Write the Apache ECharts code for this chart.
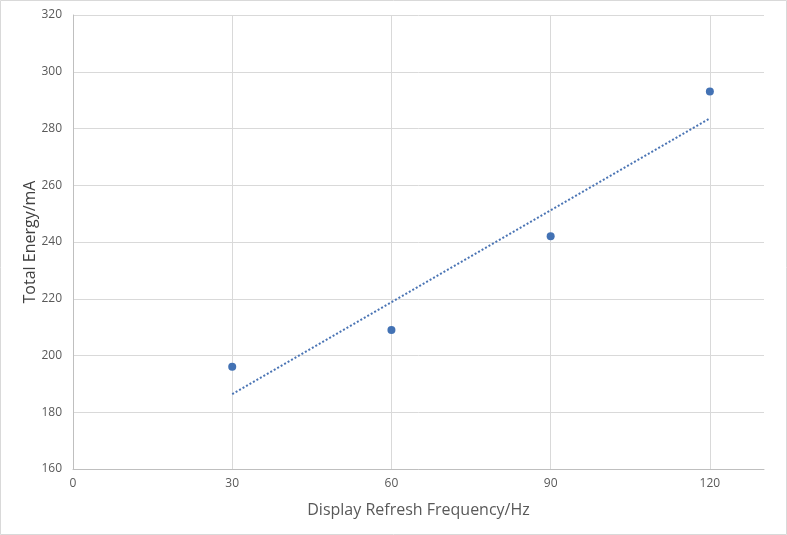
<!DOCTYPE html>
<html><head><meta charset="utf-8">
<script src="https://cdn.jsdelivr.net/npm/echarts@6/dist/echarts.min.js"></script>
<style>html,body{margin:0;padding:0;background:#fff}#c{width:787px;height:535px}</style>
</head><body><div id="c"></div>
<script>
const freqs = [30, 60, 90, 120];
const energy = [196, 209, 242, 293];
const trendX = [30, 120];
const trendY = [186.4, 283.6];
const xTicks = [30, 60, 90, 120];

const chart = echarts.init(document.getElementById('c'));
chart.setOption({
  animation: false,
  backgroundColor: '#fff',
  textStyle: { fontFamily: 'Open Sans, Noto Sans, sans-serif' },
  graphic: [{ type: 'rect', shape: { x: 0.5, y: 0.5, width: 786, height: 534 },
    style: { fill: 'none', stroke: '#d9d9d9', lineWidth: 1 }, silent: true }],
  grid: { left: 73, right: 23, top: 15, bottom: 66 },
  xAxis: {
    type: 'value', min: 0, max: 130.2, interval: 30,
    name: 'Display Refresh Frequency/Hz', nameLocation: 'middle', nameGap: 33,
    nameTextStyle: { fontSize: 16, color: '#595959' },
    axisLine: { show: true, lineStyle: { color: '#bfbfbf' } },
    axisTick: { show: false },
    axisLabel: { color: '#595959', fontSize: 12, margin: 9, showMaxLabel: false },
    splitLine: { show: false }
  },
  yAxis: {
    type: 'value', min: 160, max: 320, interval: 20,
    name: 'Total Energy/mA', nameLocation: 'middle', nameGap: 35,
    nameMoveOverlap: false,
    nameTextStyle: { fontSize: 16, color: '#404040' },
    axisLine: { show: true, lineStyle: { color: '#bfbfbf' } },
    axisTick: { show: false },
    axisLabel: { color: '#595959', fontSize: 12, margin: 11 },
    splitLine: { show: true, lineStyle: { color: '#d9d9d9' } }
  },
  series: [
    {
      type: 'line', data: trendX.map((x, i) => [x, trendY[i]]),
      symbol: 'none', lineStyle: { color: '#4a74b4', width: 2, type: [2, 2] },
      z: 2,
      markLine: {
        silent: true, symbol: 'none', label: { show: false },
        lineStyle: { color: '#d9d9d9', type: 'solid', width: 1 },
        data: xTicks.map(v => ({ xAxis: v })), z: 1
      }
    },
    {
      type: 'scatter', data: freqs.map((x, i) => [x, energy[i]]),
      symbolSize: 8, itemStyle: { color: '#4372b4', opacity: 1 }, z: 3
    }
  ]
});
</script></body></html>
